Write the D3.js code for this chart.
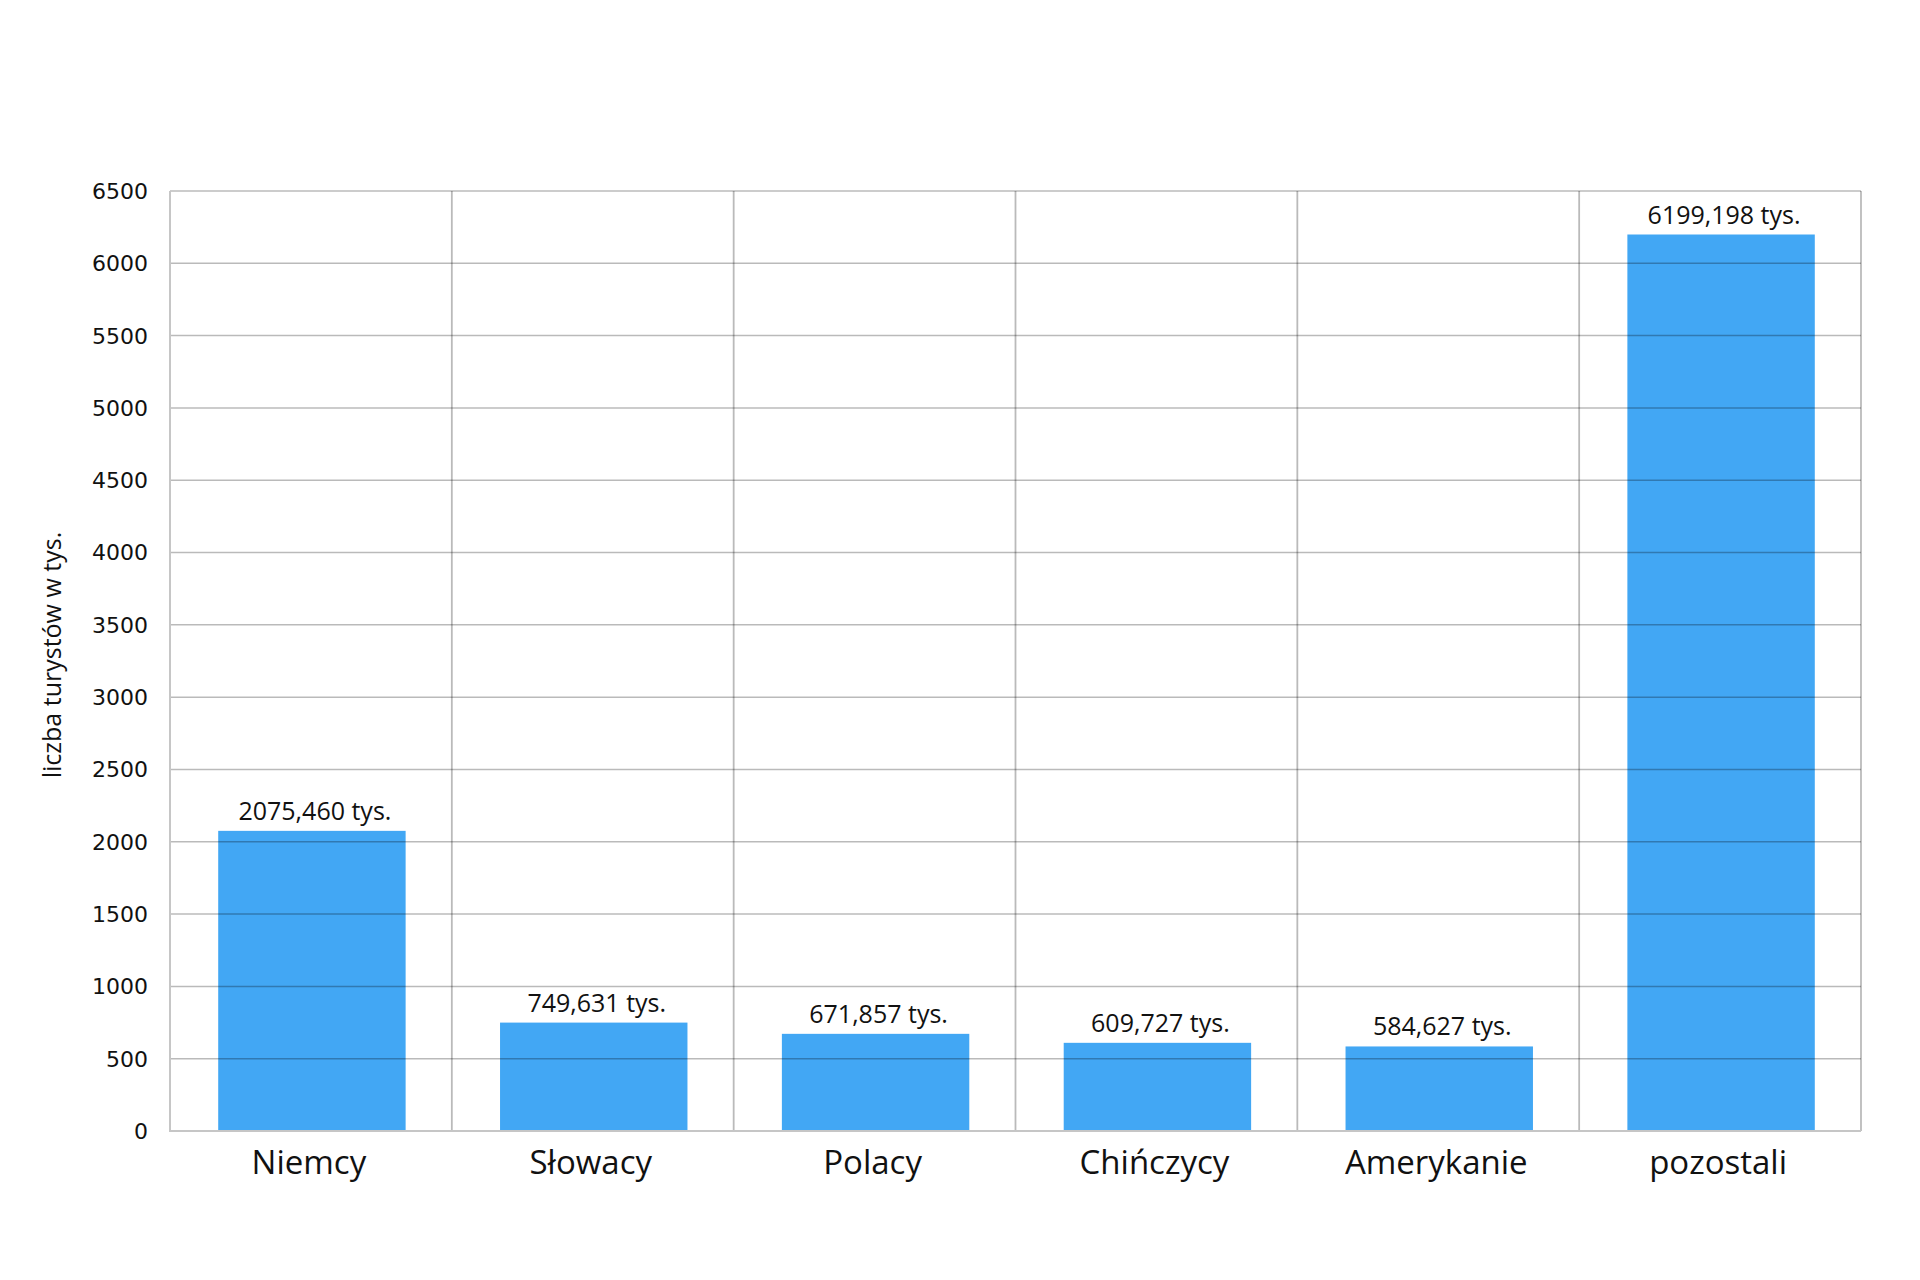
<!DOCTYPE html>
<html>
<head>
<meta charset="utf-8">
<script src="https://cdn.jsdelivr.net/npm/d3@7"></script>
<style>
	body { margin: 0; background: #fff; }
	svg { display: block; }
</style>
</head>
<body>
<div id="chart"></div>
<script>
// data
const categories = ["Niemcy", "Słowacy", "Polacy", "Chińczycy", "Amerykanie", "pozostali"];
const values = [2075.46, 749.631, 671.857, 609.727, 584.627, 6199.198];
const valueLabels = ["2075,460 tys.", "749,631 tys.", "671,857 tys.", "609,727 tys.", "584,627 tys.", "6199,198 tys."];
const yTicks = [0, 500, 1000, 1500, 2000, 2500, 3000, 3500, 4000, 4500, 5000, 5500, 6000, 6500];

const W = 1920, H = 1280;
const margin = { top: 191, right: 59, bottom: 149, left: 170 };
const width = W - margin.left - margin.right;
const height = H - margin.top - margin.bottom;

const svg = d3.select("#chart")
	.append("svg")
	.attr("width", W)
	.attr("height", H);

const g = svg.append("g")
	.attr("transform", `translate(${margin.left},${margin.top})`);

// scales
const x = d3.scaleBand()
	.domain(categories)
	.range([0, width])
	.paddingInner(0.335)
	.paddingOuter(0.1675);

const y = d3.scaleLinear()
	.domain([0, 6500])
	.range([height, 0]);

const step = width / categories.length;

// bars
g.selectAll(".bar")
	.data(categories)
	.enter()
	.append("rect")
	.attr("class", "bar")
	.attr("x", d => x(d) + 1)
	.attr("y", (d, i) => y(values[i]))
	.attr("width", x.bandwidth())
	.attr("height", (d, i) => height - y(values[i]))
	.attr("fill", "#42a7f4");

// horizontal grid (on top of bars)
g.append("g")
	.selectAll("line")
	.data(yTicks.slice(1))
	.enter()
	.append("line")
	.attr("x1", 0)
	.attr("x2", width)
	.attr("y1", d => y(d))
	.attr("y2", d => y(d))
	.attr("stroke", "rgba(0,0,0,0.27)")
	.attr("stroke-width", 1.5);

// vertical grid at category boundaries
g.append("g")
	.selectAll("line")
	.data(d3.range(1, categories.length + 1))
	.enter()
	.append("line")
	.attr("x1", d => d * step)
	.attr("x2", d => d * step)
	.attr("y1", 0)
	.attr("y2", height)
	.attr("stroke", "rgba(0,0,0,0.27)")
	.attr("stroke-width", 1.8);

// axis lines
g.append("line")
	.attr("x1", 0).attr("x2", 0)
	.attr("y1", 0).attr("y2", height + 1)
	.attr("stroke", "#c6c6c6")
	.attr("stroke-width", 2);

g.append("line")
	.attr("x1", 0).attr("x2", width)
	.attr("y1", height).attr("y2", height)
	.attr("stroke", "#c6c6c6")
	.attr("stroke-width", 2);

// y tick labels
g.append("g")
	.selectAll("text")
	.data(yTicks)
	.enter()
	.append("text")
	.attr("x", -22)
	.attr("y", d => y(d))
	.attr("dy", "0.36em")
	.attr("text-anchor", "end")
	.style("font-family", "DejaVu Sans")
	.style("font-size", "22px")
	.style("fill", "#111")
	.text(d => d);

// value labels
g.selectAll(".label")
	.data(categories)
	.enter()
	.append("text")
	.attr("class", "label")
	.attr("x", d => x(d) + x.bandwidth() / 2 + 4)
	.attr("y", (d, i) => y(values[i]) - 11)
	.attr("text-anchor", "middle")
	.style("font-family", "Open Sans")
	.style("font-size", "25px")
	.style("fill", "#111")
	.text((d, i) => valueLabels[i]);

// category labels
g.selectAll(".cat")
	.data(categories)
	.enter()
	.append("text")
	.attr("class", "cat")
	.attr("x", d => x(d) + x.bandwidth() / 2 - 2)
	.attr("y", height + 43)
	.attr("text-anchor", "middle")
	.style("font-family", "Open Sans")
	.style("font-size", "33px")
	.style("fill", "#111")
	.text(d => d);

// y axis title
svg.append("text")
	.attr("transform", `translate(61,${margin.top + height / 2 - 6}) rotate(-90)`)
	.attr("text-anchor", "middle")
	.style("font-family", "Open Sans")
	.style("font-size", "25px")
	.style("fill", "#111")
	.text("liczba turystów w tys.");
</script>
</body>
</html>
